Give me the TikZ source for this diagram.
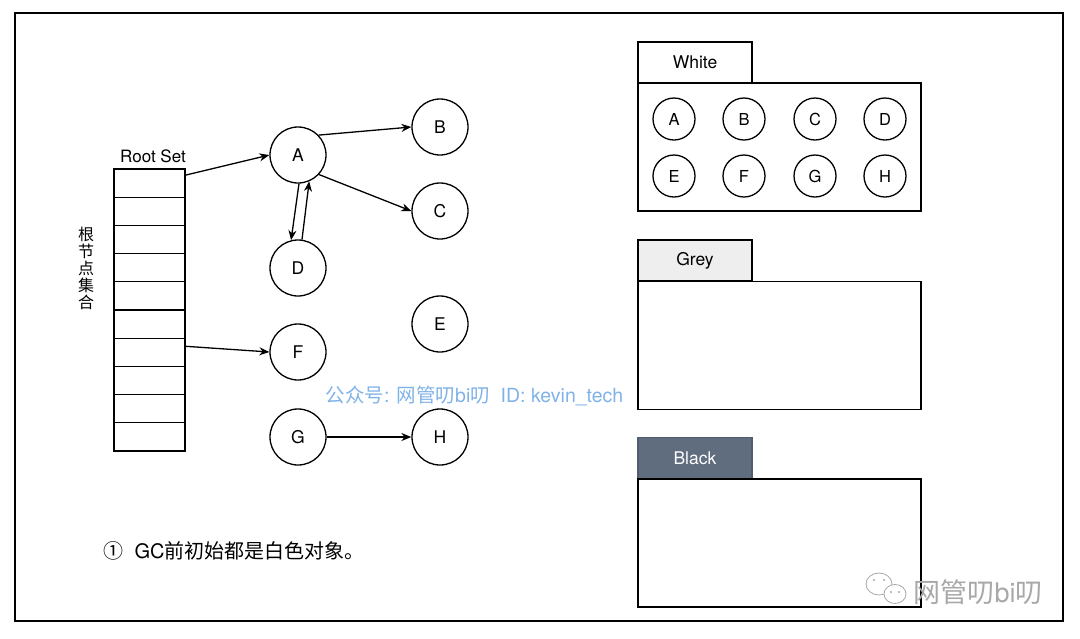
\documentclass[tikz,border=0pt]{standalone}
\usepackage{fontspec}
\setmainfont{TeX Gyre Heros}
\newfontfamily\cjk{Noto Sans CJK SC}
\usetikzlibrary{arrows.meta}
\definecolor{slate}{HTML}{5F6D7F}
\definecolor{tabgrey}{HTML}{EEEEEE}
\definecolor{markblue}{HTML}{7FB2E8}
\definecolor{markgrey}{HTML}{A8A8A8}
\tikzset{
  obj/.style={circle, draw, line width=1.3pt, minimum size=56pt, inner sep=0pt, font=\fontsize{17.5}{19}\selectfont},
  smallobj/.style={circle, draw, line width=1.3pt, minimum size=42pt, inner sep=0pt, font=\fontsize{16.5}{18}\selectfont},
  cell/.style={rectangle, draw, line width=1.3pt, minimum width=71pt, minimum height=28.2pt, inner sep=0pt},
  tabbox/.style={rectangle, draw, line width=1.3pt, minimum width=114pt, minimum height=41pt, inner sep=0pt, font=\fontsize{17.5}{19}\selectfont},
  setbody/.style={rectangle, draw, line width=1.3pt, minimum width=283pt, minimum height=128pt, inner sep=0pt},
  ref/.style={-{Stealth[length=10pt,width=8pt]}, line width=1.3pt},
}
\begin{document}
\begin{tikzpicture}[x=1pt,y=-1pt]
\useasboundingbox (0,0) rectangle (1080,638);
% outer frame
\draw[line width=1.5pt] (15,13) rectangle (1063,621);

% root set column
\node[font=\fontsize{17}{19}\selectfont] (rootlbl) at (153,156) {Root Set};
\foreach \i in {1,...,10}{
  \node[cell] (r\i) at (149.5,{169+28.2*(\i-0.5)}) {};
}
\node[font=\cjk\fontsize{16}{17}\selectfont, align=center] (rootcn) at (86,268) {根\\节\\点\\集\\合};

% object graph
\node[obj] (A) at (298,155) {A};
\node[obj] (B) at (440,127) {B};
\node[obj] (C) at (440,211) {C};
\node[obj] (D) at (298,268) {D};
\node[obj] (E) at (440,324) {E};
\node[obj] (F) at (298,352) {F};
\node[obj] (G) at (298,437) {G};
\node[obj] (H) at (440,437) {H};

\draw[ref] ([yshift=8pt]r1.east) -- (A.west);
\draw[ref] ([yshift=6pt]r7.east) -- (F.west);
\draw[ref] (A.44) -- (B.west);
\draw[ref] (A.-43) -- (C.west);
\draw[ref] (A.-88) -- (D.104);
\draw[ref] (D.82) -- (A.-67);
\draw[ref] (G.east) -- (H.west);

% colour sets
\node[tabbox] (wtab) at (695,62.5) {White};
\node[setbody] (wbody) at (779.5,147) {};
\node[smallobj] (wA) at (674,119) {A};
\node[smallobj] (wB) at (744,119) {B};
\node[smallobj] (wC) at (815,119) {C};
\node[smallobj] (wD) at (885,119) {D};
\node[smallobj] (wE) at (674,176) {E};
\node[smallobj] (wF) at (744,176) {F};
\node[smallobj] (wG) at (815,176) {G};
\node[smallobj] (wH) at (885,176) {H};

\node[tabbox, fill=tabgrey] (gtab) at (695,260.5) {Grey};
\node[setbody] (gbody) at (779.5,345.5) {};

\node[tabbox, fill=slate, draw=slate!85!black, text=white] (btab) at (695,458) {Black};
\node[setbody] (bbody) at (779.5,543) {};

% captions
\node[font=\fontsize{19.5}{21}\selectfont, anchor=west, text=markblue] (mark) at (322,396) {{\cjk 公众号}: {\cjk 网管叨}bi{\cjk 叨}\ \ ID: kevin\_tech};
\node[font=\fontsize{20}{22}\selectfont, anchor=west] (note) at (100,551) {{\cjk ①}\ \ GC{\cjk 前初始都是白色对象。}};

% account badge
\draw[markgrey, line width=0.8pt, fill=white] (879,584) ellipse (13pt and 11pt);
\draw[markgrey, line width=0.8pt, fill=white] (895,594) ellipse (11pt and 9.5pt);
\foreach \p in {(874,580),(884,580),(891,592),(899,592)} \fill[markgrey] \p circle (1.1pt);
\node[font=\cjk\fontsize{27}{29}\selectfont, anchor=west, text=markgrey] (badge) at (910,592) {网管叨{\fontspec{TeX Gyre Heros}bi}叨};
\end{tikzpicture}
\end{document}
